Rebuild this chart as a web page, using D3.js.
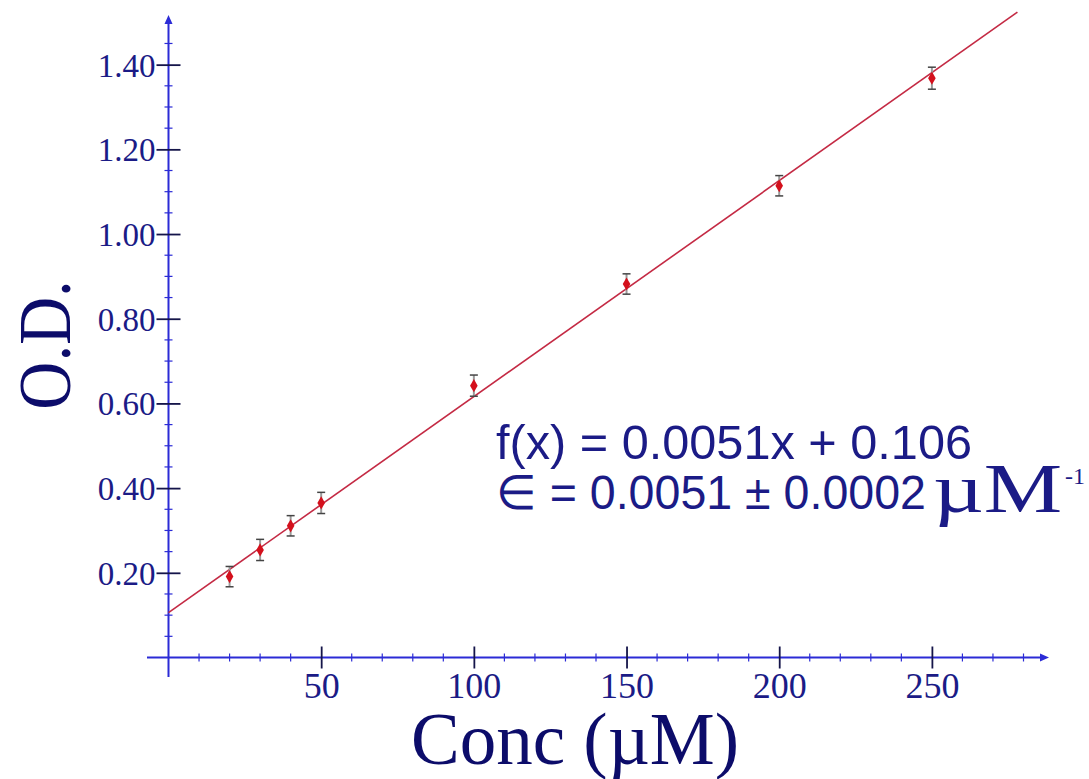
<!DOCTYPE html>
<html>
<head>
<meta charset="utf-8">
<script src="https://cdn.jsdelivr.net/npm/d3@7"></script>
<style>
  html, body { margin: 0; padding: 0; background: #fff; }
  svg { display: block; }
</style>
</head>
<body>
<div id="chart"></div>
<script>
// Data
const conc = [20, 30, 40, 50, 100, 150, 200, 250];
const od = [0.191, 0.254, 0.311, 0.365, 0.642, 0.882, 1.114, 1.368];
const odErr = [0.024, 0.025, 0.024, 0.025, 0.025, 0.024, 0.024, 0.026];
const fitSlope = 0.0051;
const fitIntercept = 0.106;
const xTicks = [50, 100, 150, 200, 250];
const yTicks = [0.2, 0.4, 0.6, 0.8, 1.0, 1.2, 1.4];

const width = 1089, height = 779;
const axisColor = '#2b2bd6';
const labelColor = '#1b1b86';
const titleColor = '#0c0c6a';
const serif = '"Liberation Serif", "Times New Roman", serif';

const svg = d3.select('#chart').append('svg')
  .attr('width', width)
  .attr('height', height)
  .attr('viewBox', [0, 0, width, height]);

const x = d3.scaleLinear().domain([0, 280]).range([168.5, 1023.5]);
const y = d3.scaleLinear().domain([0, 1.5]).range([657.5, 22.3]);

const x0 = x(0), y0 = y(0);

// Minor ticks
const xMinor = d3.range(10, 281, 10).filter(d => d % 50 !== 0);
const yMinor = d3.range(1, 30).map(d => d * 0.05).filter(d => Math.round(d * 100) % 20 !== 0);

svg.append('g').selectAll('line')
  .data(xMinor)
  .join('line')
  .attr('x1', d => x(d)).attr('x2', d => x(d))
  .attr('y1', y0 - 4).attr('y2', y0 + 4)
  .attr('stroke', axisColor).attr('stroke-width', 1.2);

svg.append('g').selectAll('line')
  .data(yMinor)
  .join('line')
  .attr('x1', x0 - 4).attr('x2', x0 + 4)
  .attr('y1', d => y(d)).attr('y2', d => y(d))
  .attr('stroke', axisColor).attr('stroke-width', 1.2);

// Axis lines with arrow heads
svg.append('line')
  .attr('x1', 147).attr('x2', 1044)
  .attr('y1', y0).attr('y2', y0)
  .attr('stroke', axisColor).attr('stroke-width', 2);
svg.append('path')
  .attr('d', `M1049,${y0} L1040,${y0 - 4} L1040,${y0 + 4} Z`)
  .attr('fill', axisColor);

svg.append('line')
  .attr('x1', x0).attr('x2', x0)
  .attr('y1', 20).attr('y2', 677)
  .attr('stroke', axisColor).attr('stroke-width', 2);
svg.append('path')
  .attr('d', `M${x0},15 L${x0 - 4},24 L${x0 + 4},24 Z`)
  .attr('fill', axisColor);

// Major ticks and labels through d3 axes
const xAxis = svg.append('g')
  .attr('transform', `translate(0,${y0})`)
  .call(d3.axisBottom(x).tickValues(xTicks).tickFormat(d3.format('d')).tickSize(0).tickPadding(0));
xAxis.select('.domain').remove();
xAxis.selectAll('.tick line')
  .attr('y1', -11).attr('y2', 11)
  .attr('stroke', '#15154a').attr('stroke-width', 1.8);
xAxis.selectAll('.tick text')
  .attr('y', 40).attr('dy', 0)
  .attr('fill', labelColor)
  .style('font-family', serif)
  .style('font-size', '36px');

const yAxis = svg.append('g')
  .attr('transform', `translate(${x0},0)`)
  .call(d3.axisLeft(y).tickValues(yTicks).tickFormat(d3.format('.2f')).tickSize(0).tickPadding(0));
yAxis.select('.domain').remove();
yAxis.selectAll('.tick line')
  .attr('x1', -12).attr('x2', 12)
  .attr('stroke', '#15154a').attr('stroke-width', 1.8);
yAxis.selectAll('.tick text')
  .attr('x', -13).attr('dy', '0.35em')
  .attr('fill', labelColor)
  .style('font-family', serif)
  .style('font-size', '33px');

// Fitted line
const fitX = [0, 278];
svg.append('path')
  .datum(fitX)
  .attr('fill', 'none')
  .attr('stroke', '#c42a44')
  .attr('stroke-width', 1.6)
  .attr('d', d3.line()
    .x(d => x(d))
    .y(d => y(fitSlope * d + fitIntercept)));

// Error bars
const bars = svg.append('g').selectAll('g')
  .data(conc.map((c, i) => ({c, v: od[i], e: odErr[i]})))
  .join('g');

bars.append('line')
  .attr('x1', d => x(d.c)).attr('x2', d => x(d.c))
  .attr('y1', d => y(d.v + d.e)).attr('y2', d => y(d.v - d.e))
  .attr('stroke', '#9a9a9a').attr('stroke-width', 2);
bars.append('line')
  .attr('x1', d => x(d.c) - 4).attr('x2', d => x(d.c) + 4)
  .attr('y1', d => y(d.v + d.e)).attr('y2', d => y(d.v + d.e))
  .attr('stroke', '#444').attr('stroke-width', 1.5);
bars.append('line')
  .attr('x1', d => x(d.c) - 4).attr('x2', d => x(d.c) + 4)
  .attr('y1', d => y(d.v - d.e)).attr('y2', d => y(d.v - d.e))
  .attr('stroke', '#444').attr('stroke-width', 1.5);

// Points
bars.append('path')
  .attr('transform', d => `translate(${x(d.c)},${y(d.v)})`)
  .attr('d', d3.symbol(d3.symbolDiamond, 50))
  .attr('fill', '#d4101c');

// Axis titles
svg.append('text')
  .attr('x', 575).attr('y', 764)
  .attr('text-anchor', 'middle')
  .attr('fill', titleColor)
  .style('font-family', serif)
  .style('font-size', '73px')
  .text('Conc (µM)');

svg.append('text')
  .attr('transform', 'translate(70,345) rotate(-90) scale(0.95,1.05)')
  .attr('text-anchor', 'middle')
  .attr('fill', titleColor)
  .style('font-family', serif)
  .style('font-size', '70px')
  .text('O.D.');

// Fit annotation
const eq = svg.append('g')
  .attr('fill', labelColor)
  .style('font-family', '"Liberation Sans", Arial, sans-serif');

eq.append('text')
  .attr('x', 496).attr('y', 459)
  .attr('textLength', 476)
  .attr('lengthAdjust', 'spacingAndGlyphs')
  .style('font-size', '48px')
  .text('f(x) = 0.0051x + 0.106');

const line2 = eq.append('text')
  .attr('x', 496).attr('y', 509)
  .attr('textLength', 430)
  .attr('lengthAdjust', 'spacingAndGlyphs')
  .style('font-size', '48px');
line2.append('tspan')
  .style('font-family', serif)
  .style('font-size', '48px')
  .text('\u2208');
line2.append('tspan').text(' = 0.0051 \u00B1 0.0002');

eq.append('text')
  .attr('transform', 'translate(933,512) scale(1.26,1)')
  .style('font-family', serif)
  .style('font-size', '70px')
  .text('µM');

eq.append('text')
  .attr('x', 1065).attr('y', 484)
  .style('font-family', serif)
  .style('font-size', '24px')
  .text('-1');
</script>
</body>
</html>
